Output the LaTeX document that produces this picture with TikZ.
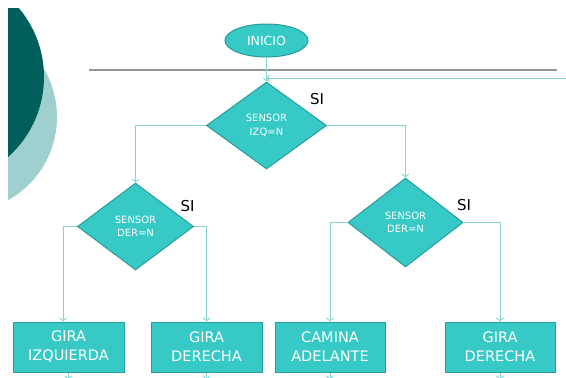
\documentclass[tikz,border=0pt]{standalone}
\usepackage{fontspec}
\setmainfont{DejaVu Sans}
\usetikzlibrary{positioning,shapes,shapes.geometric,arrows,arrows.meta,calc}
\definecolor{turq}{HTML}{36C9C6}
\definecolor{turqdark}{HTML}{2A9C99}
\definecolor{flecha}{HTML}{86D5D4}
\definecolor{tealdark}{HTML}{005F5B}
\definecolor{teallight}{HTML}{9FCFCE}
\tikzstyle{inicio}=[ellipse, draw=turqdark, fill=turq, text=white, line width=1pt, minimum width=83pt, minimum height=33pt, inner sep=0pt, font=\fontsize{12.5}{14}\selectfont]
\tikzstyle{decision}=[diamond, draw=turqdark, fill=turq, text=white, line width=1pt, align=center, inner sep=0pt, font=\fontsize{10}{13.3}\selectfont]
\tikzstyle{accion}=[rectangle, draw=turqdark, fill=turq, text=white, line width=1pt, align=center, minimum width=111pt, minimum height=50pt, inner sep=0pt, font=\fontsize{14.5}{19}\selectfont]
\tikzstyle{etiqueta}=[text=black, inner sep=0pt, font=\fontsize{15}{16}\selectfont]
\tikzstyle{myarrow}=[-{Straight Barb[length=3pt,width=7pt]}, draw=flecha, line width=0.9pt]

\begin{document}
\begin{tikzpicture}[x=1pt, y=1pt]

		\useasboundingbox (0,0) rectangle (566,-378);
		\fill[white] (0,0) rectangle (566,-378);

		% circulos
		\begin{scope}
		\clip (8,-8) rectangle (200,-378);
		\fill[teallight] (-38,-117) circle (95);
		\fill[tealdark] (-63,-77) circle (107);
		\end{scope}

		\draw[draw=gray!85, line width=1.6pt] (89,-70) -- (557,-70);

        \node (inicio) [inicio] at (266.5,-40.5) {INICIO};
        \node (izq) [decision, below of=inicio, node distance=85pt, minimum width=120pt, minimum height=87pt] {SENSOR\\IZQ=N};

        % Sensores derecha
        \node (derL) [decision, below of=izq, node distance=101pt, xshift=-131pt, minimum width=116pt, minimum height=87pt] {SENSOR\\DER=N};
        \node (derR) [decision, below of=izq, node distance=97pt, xshift=139pt, minimum width=115pt, minimum height=89pt] {SENSOR\\DER=N};

        \node (si1) [etiqueta, right of=izq, node distance=50.5pt, yshift=26.5pt] {SI};
        \node (si2) [etiqueta, right of=derL, node distance=52pt, yshift=20.5pt] {SI};
        \node (si3) [etiqueta, right of=derR, node distance=58.5pt, yshift=17.5pt] {SI};

        % Acciones
        \node (gizq) [accion, below of=derL, node distance=120.5pt, xshift=-67pt] {GIRA\\IZQUIERDA};
        \node (gder1) [accion, below of=derL, node distance=120.5pt, xshift=71pt] {GIRA\\DERECHA};
        \node (camina) [accion, below of=derR, node distance=124.5pt, xshift=-75.5pt, minimum width=110pt] {CAMINA\\ADELANTE};
        \node (gder2) [accion, below of=derR, node distance=124.5pt, xshift=94.5pt, minimum width=110pt] {GIRA\\DERECHA};

        \coordinate (retorno) at (566,-78);

        %Arrows
        \draw[myarrow] (inicio.south) -- (izq.north);
        \draw[myarrow] (retorno) -- (retorno -| izq.north);

        \draw[myarrow] (izq.west) -| (derL.north);
        \draw[myarrow] (izq.east) -| (derR.north);

        \draw[myarrow] (derL.west) -| ($(gizq.north)+(-5.5,0)$);
        \draw[myarrow] (derL.east) -| (gder1.north);
        \draw[myarrow] (derR.west) -| (camina.north);
        \draw[myarrow] (derR.east) -| (gder2.north);

        \draw[myarrow] (gizq.south) -- +(0,-7);
        \draw[myarrow] (gder1.south) -- +(0,-7);
        \draw[myarrow] (camina.south) -- +(0,-7);
        \draw[myarrow] (gder2.south) -- +(0,-7);

\end{tikzpicture}
\end{document}
